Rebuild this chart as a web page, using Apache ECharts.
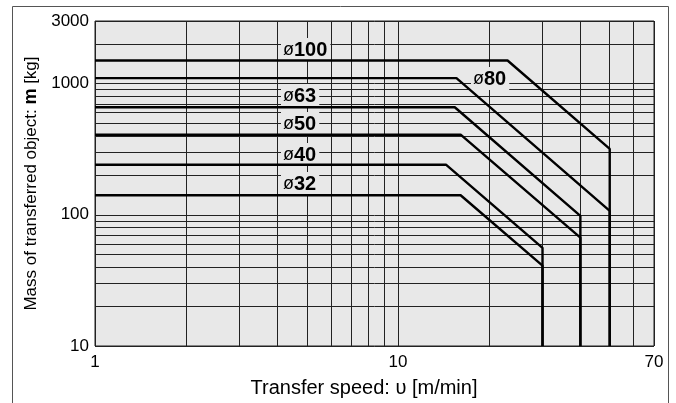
<!DOCTYPE html>
<html>
<head>
<meta charset="utf-8">
<script src="https://cdn.jsdelivr.net/npm/echarts@6/dist/echarts.min.js"></script>
<style>
  html, body { margin: 0; padding: 0; background: #fff; }
  #myChart { width: 676px; height: 403px; }
</style>
</head>
<body>
<div id="myChart"></div>
<script>
// transfer speed [m/min] vs allowable mass [kg], one curve per bore size
const boreNames = ['100', '80', '63', '50', '40', '32']
const speedPoints = [
  [1, 23, 50, 50],
  [1, 15.6, 50, 50],
  [1, 15.4, 40, 40],
  [1, 16.1, 40, 40],
  [1, 14.4, 30, 30],
  [1, 16.1, 30, 30]
]
const massPoints = [
  [1500, 1500, 318, 10],
  [1100, 1100, 107, 10],
  [660, 660, 98, 10],
  [408, 408, 67, 10],
  [241, 241, 56, 10],
  [141, 141, 41, 10]
]
const xGridValues = [1, 2, 3, 4, 5, 6, 7, 8, 9, 10, 20, 30, 40, 50, 60, 70]
const yGridValues = [10, 20, 30, 40, 50, 60, 70, 80, 90, 100, 200, 300, 400, 500, 600, 700, 800, 900, 1000, 2000, 3000]
const xTickLabels = [1, 10, 70]
const yTickLabels = [10, 100, 1000, 3000]

// label positions in px: [left, centre y]
const labelPos = {
  '100': [281, 50],
  '80': [471, 79],
  '63': [281, 96],
  '50': [281, 124],
  '40': [281, 155],
  '32': [281, 184]
}

const plotBg = '#e8e8e8'
const gridColor = '#222'

function drawChart () {
  let myChart = echarts.init(document.getElementById('myChart'))
  let series = boreNames.map((name, i) => ({
    name: 'ø' + name,
    type: 'line',
    symbol: 'none',
    animation: false,
    lineStyle: { color: '#000', width: 2.4 },
    data: speedPoints[i].map((v, j) => [v, massPoints[i][j]])
  }))

  let graphic = [
    // outer frame
    {
      type: 'rect',
      shape: { x: 12.5, y: 6.5, width: 656, height: 410 },
      style: { fill: null, stroke: '#555', lineWidth: 1 },
      z: 0
    }
  ]
  boreNames.forEach(name => {
    graphic.push({
      type: 'text',
      left: labelPos[name][0],
      top: labelPos[name][1] - 12,
      z: 1,
      style: {
        text: '{a|ø}{b|' + name + '}',
        backgroundColor: plotBg,
        padding: [2, 3, 1, 2],
        rich: {
          a: { fontFamily: 'Liberation Sans', fontSize: 18, fill: '#000', fontWeight: 'normal' },
          b: { fontFamily: 'Liberation Sans', fontSize: 20, fill: '#000', fontWeight: 'bold' }
        }
      }
    })
  })

  const noComma = v => String(Math.round(v))

  myChart.setOption({
    animation: false,
    grid: {
      left: 95,
      right: 22,
      top: 21,
      bottom: 56,
      show: true,
      backgroundColor: plotBg,
      borderColor: gridColor,
      borderWidth: 1
    },
    xAxis: {
      type: 'log',
      min: 1,
      max: 70,
      name: 'Transfer speed: υ [m/min]',
      nameLocation: 'middle',
      nameGap: 32,
      nameTextStyle: {
        fontFamily: 'Liberation Sans',
        fontSize: 20,
        color: '#000',
        padding: [0, 21, 0, 0]
      },
      axisLine: { show: false },
      axisTick: { show: false, customValues: xGridValues },
      axisLabel: {
        customValues: xTickLabels,
        formatter: noComma,
        margin: 8,
        fontFamily: 'Liberation Sans',
        fontSize: 17,
        color: '#000'
      },
      splitLine: { show: true, lineStyle: { color: gridColor, width: 1 } }
    },
    yAxis: {
      type: 'log',
      min: 10,
      max: 3000,
      name: '{n|Mass of transferred object: }{b|m}{n| [kg]}',
      nameLocation: 'middle',
      nameGap: 48,
      nameTextStyle: {
        rich: {
          n: { fontFamily: 'Liberation Sans', fontSize: 17, color: '#000' },
          b: { fontFamily: 'Liberation Sans', fontSize: 18, color: '#000', fontWeight: 'bold' }
        }
      },
      axisLine: { show: false },
      axisTick: { show: false, customValues: yGridValues },
      axisLabel: {
        customValues: yTickLabels,
        formatter: noComma,
        margin: 6,
        fontFamily: 'Liberation Sans',
        fontSize: 17,
        color: '#000'
      },
      splitLine: { show: true, lineStyle: { color: gridColor, width: 1 } }
    },
    graphic: graphic,
    series: series
  })
}

drawChart()
</script>
</body>
</html>
